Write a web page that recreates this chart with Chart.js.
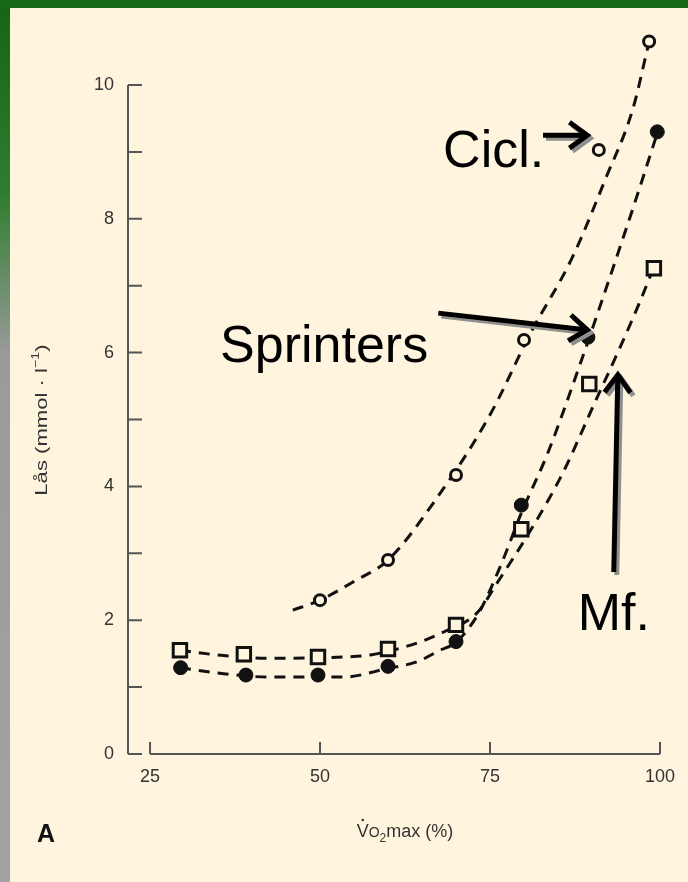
<!DOCTYPE html>
<html>
<head>
<meta charset="utf-8">
<script src="https://cdn.jsdelivr.net/npm/chart.js@4.4.1/dist/chart.umd.min.js"></script>
<style>
    html, body { margin: 0; padding: 0; background: #fff5df; }
    #contenedor { position: relative; width: 688px; height: 882px; }
</style>
</head>
<body>
<div id="contenedor"><canvas id="grafico" width="688" height="882"></canvas></div>
<script>
// Lactato en sangre (mmol/l) frente a % del VO2max
const ciclX = [50, 60, 70, 80, 91, 98.4]
const ciclY = [2.3, 2.9, 4.17, 6.19, 9.03, 10.65]
const sprintX = [29.5, 39.1, 49.7, 60, 70, 79.6, 89.4, 99.6]
const sprintY = [1.29, 1.18, 1.18, 1.31, 1.68, 3.72, 6.23, 9.3]
const mfX = [29.4, 38.8, 49.7, 60, 70, 79.6, 89.6, 99.1]
const mfY = [1.55, 1.49, 1.45, 1.57, 1.93, 3.36, 5.53, 7.26]

// Curvas ajustadas (trazo discontinuo)
const curvaCiclX = [46, 50, 55, 60, 67, 75, 81, 87, 92, 96, 98.4]
const curvaCiclY = [2.15, 2.3, 2.58, 2.9, 3.8, 5.07, 6.3, 7.4, 8.6, 9.64, 10.65]
const curvaSprintX = [29.4, 35, 42.6, 53.4, 60, 64.3, 67.6, 70, 73.3, 76.5, 79.6, 83.5, 88.5, 90.7, 96, 99.6]
const curvaSprintY = [1.29, 1.21, 1.15, 1.15, 1.28, 1.38, 1.55, 1.67, 2.1, 2.8, 3.6, 4.5, 5.9, 6.55, 8.15, 9.28]
const curvaMfX = [29.4, 35, 42.6, 53.4, 57.4, 64.3, 68.1, 73.1, 76, 81.3, 85.7, 90.4, 94, 97, 99.1]
const curvaMfY = [1.55, 1.48, 1.43, 1.45, 1.48, 1.66, 1.82, 2.11, 2.55, 3.4, 4.2, 5.25, 6.05, 6.75, 7.28]

const ticksX = [25, 50, 75, 100]
const ticksY = [0, 2, 4, 6, 8, 10]

// Rótulos con flecha (en unidades de los ejes)
const rotulos = [
    { texto: 'Cicl.', x: 68.1, y: 8.77, desde: [82.8, 9.25], hasta: [89.3, 9.25] },
    { texto: 'Sprinters', x: 35.3, y: 5.86, desde: [67.4, 6.59], hasta: [89.3, 6.34] },
    { texto: 'Mf.', x: 87.9, y: 1.85, desde: [93.2, 2.72], hasta: [93.8, 5.67] }
]

const fuente = '"Liberation Sans", Arial, Helvetica, sans-serif'
const crema = '#fff5df'

const puntos = (xs, ys) => xs.map((x, i) => ({ x, y: ys[i] }))

function curva(xs, ys) {
    return {
        data: puntos(xs, ys),
        showLine: true,
        borderColor: '#111',
        borderWidth: 3,
        borderDash: [11, 8],
        cubicInterpolationMode: 'monotone',
        pointRadius: 0,
        order: 2,
        clip: false
    }
}

// Marco verde de la diapositiva
const marco = {
    id: 'marco',
    beforeDraw(chart) {
        const { ctx, width, height } = chart
        ctx.save()
        ctx.fillStyle = crema
        ctx.fillRect(0, 0, width, height)
        const grad = ctx.createLinearGradient(0, 0, 0, height)
        grad.addColorStop(0, '#146414')
        grad.addColorStop(0.22, '#2f7e2f')
        grad.addColorStop(0.33, '#6f8f6f')
        grad.addColorStop(0.4, '#9a9a9a')
        grad.addColorStop(1, '#a3a3a3')
        ctx.fillStyle = grad
        ctx.fillRect(0, 0, 10, height)
        ctx.fillStyle = '#176817'
        ctx.fillRect(0, 0, width, 8)
        ctx.restore()
    }
}

// Ejes separados con marcas hacia dentro
const ejes = {
    id: 'ejes',
    beforeDatasetsDraw(chart) {
        const { ctx, chartArea, scales: { x, y } } = chart
        const x0 = chartArea.left
        const yBase = y.getPixelForValue(0)
        ctx.save()
        ctx.strokeStyle = '#555'
        ctx.lineWidth = 2
        ctx.beginPath()
        ctx.moveTo(x0, y.getPixelForValue(10))
        ctx.lineTo(x0, yBase)
        for (let v = 0; v <= 10; v++) {
            const py = y.getPixelForValue(v)
            ctx.moveTo(x0, py)
            ctx.lineTo(x0 + 14, py)
        }
        ctx.moveTo(x.getPixelForValue(25), yBase)
        ctx.lineTo(x.getPixelForValue(100), yBase)
        ticksX.forEach(v => {
            const px = x.getPixelForValue(v)
            ctx.moveTo(px, yBase)
            ctx.lineTo(px, yBase - 12)
        })
        ctx.stroke()
        ctx.restore()
    }
}

function flecha(ctx, x1, y1, x2, y2) {
    const ang = Math.atan2(y2 - y1, x2 - x1)
    const largo = 22
    const abre = Math.PI / 5
    ctx.beginPath()
    ctx.moveTo(x1, y1)
    ctx.lineTo(x2 - Math.cos(ang) * 4, y2 - Math.sin(ang) * 4)
    ctx.moveTo(x2 - largo * Math.cos(ang - abre), y2 - largo * Math.sin(ang - abre))
    ctx.lineTo(x2, y2)
    ctx.lineTo(x2 - largo * Math.cos(ang + abre), y2 - largo * Math.sin(ang + abre))
    ctx.stroke()
}

// Títulos de ejes, letra del panel y rótulos
const textos = {
    id: 'textos',
    afterDraw(chart) {
        const { ctx, scales: { x, y } } = chart
        ctx.save()

        // título eje Y (rotado)
        ctx.save()
        ctx.translate(42, 420)
        ctx.rotate(-Math.PI / 2)
        ctx.scale(1.3, 1)
        ctx.fillStyle = '#333'
        ctx.textBaseline = 'middle'
        const base = 'Lås (mmol · l'
        ctx.font = `17px ${fuente}`
        const w1 = ctx.measureText(base).width
        ctx.font = `11px ${fuente}`
        const w2 = ctx.measureText('−1').width
        ctx.font = `17px ${fuente}`
        const w3 = ctx.measureText(')').width
        let cx = -(w1 + w2 + w3) / 2
        ctx.fillText(base, cx, 0)
        cx += w1
        ctx.font = `11px ${fuente}`
        ctx.fillText('−1', cx, -6)
        cx += w2
        ctx.font = `17px ${fuente}`
        ctx.fillText(')', cx, 0)
        ctx.restore()

        // título eje X
        ctx.fillStyle = '#333'
        ctx.textBaseline = 'alphabetic'
        const partes = [
            { t: 'V', f: 18, dy: 0 },
            { t: 'O', f: 14, dy: 0 },
            { t: '2', f: 12, dy: 5 },
            { t: 'max (%)', f: 18, dy: 0 }
        ]
        let total = 0
        partes.forEach(p => {
            ctx.font = `${p.f}px ${fuente}`
            p.w = ctx.measureText(p.t).width
            total += p.w
        })
        let px = 405 - total / 2
        const by = 837
        partes.forEach((p, i) => {
            ctx.font = `${p.f}px ${fuente}`
            ctx.fillText(p.t, px, by + p.dy)
            if (i === 0) {
                ctx.beginPath()
                ctx.arc(px + p.w / 2, by - 17, 1.3, 0, Math.PI * 2)
                ctx.fill()
            }
            px += p.w
        })

        // letra del panel
        ctx.fillStyle = '#111'
        ctx.font = `bold 25px ${fuente}`
        ctx.fillText('A', 37, 842)

        // rótulos con flechas
        rotulos.forEach(r => {
            ctx.fillStyle = '#000'
            ctx.font = `52px ${fuente}`
            ctx.textBaseline = 'alphabetic'
            ctx.fillText(r.texto, x.getPixelForValue(r.x), y.getPixelForValue(r.y))

            const x1 = x.getPixelForValue(r.desde[0])
            const y1 = y.getPixelForValue(r.desde[1])
            const x2 = x.getPixelForValue(r.hasta[0])
            const y2 = y.getPixelForValue(r.hasta[1])
            ctx.lineWidth = 5
            ctx.lineCap = 'butt'
            ctx.lineJoin = 'miter'
            ctx.strokeStyle = '#8f8f8f'
            flecha(ctx, x1 + 3, y1 + 3, x2 + 3, y2 + 3)
            ctx.strokeStyle = '#000'
            flecha(ctx, x1, y1, x2, y2)
        })
        ctx.restore()
    }
}

const estiloTicks = { color: '#333', font: { family: fuente, size: 18 } }

new Chart(document.getElementById('grafico'), {
    type: 'scatter',
    data: {
        datasets: [
            {
                data: puntos(ciclX, ciclY),
                pointStyle: 'circle',
                pointRadius: 5.5,
                pointBorderWidth: 3,
                pointBorderColor: '#111',
                pointBackgroundColor: crema,
                order: 0,
                clip: false
            },
            {
                data: puntos(sprintX, sprintY),
                pointStyle: 'circle',
                pointRadius: 7,
                pointBorderWidth: 1,
                pointBorderColor: '#111',
                pointBackgroundColor: '#111',
                order: 0,
                clip: false
            },
            {
                data: puntos(mfX, mfY),
                pointStyle: 'rect',
                pointRadius: 9.5,
                pointBorderWidth: 3,
                pointBorderColor: '#111',
                pointBackgroundColor: crema,
                order: 0,
                clip: false
            },
            curva(curvaCiclX, curvaCiclY),
            curva(curvaSprintX, curvaSprintY),
            curva(curvaMfX, curvaMfY)
        ]
    },
    options: {
        responsive: false,
        animation: false,
        events: [],
        layout: { padding: { top: 8, right: 28, left: 0, bottom: 0 } },
        plugins: {
            legend: { display: false },
            tooltip: { enabled: false }
        },
        scales: {
            x: {
                type: 'linear',
                min: 21.76,
                max: 100,
                afterBuildTicks: (s) => { s.ticks = ticksX.map(v => ({ value: v })) },
                afterFit: (s) => { s.height = 128 },
                grid: { display: false, drawTicks: false },
                border: { display: false },
                ticks: { ...estiloTicks, padding: 12, maxRotation: 0, autoSkip: false }
            },
            y: {
                type: 'linear',
                min: 0,
                // tope por encima de 10 para que quepa el último punto de Cicl.; el eje se dibuja hasta 10
                max: 10.9,
                afterBuildTicks: (s) => { s.ticks = ticksY.map(v => ({ value: v })) },
                afterFit: (s) => { s.width = 128 },
                grid: { display: false, drawTicks: false },
                border: { display: false },
                ticks: { ...estiloTicks, padding: 14 }
            }
        }
    },
    plugins: [marco, ejes, textos]
})
</script>
</body>
</html>
